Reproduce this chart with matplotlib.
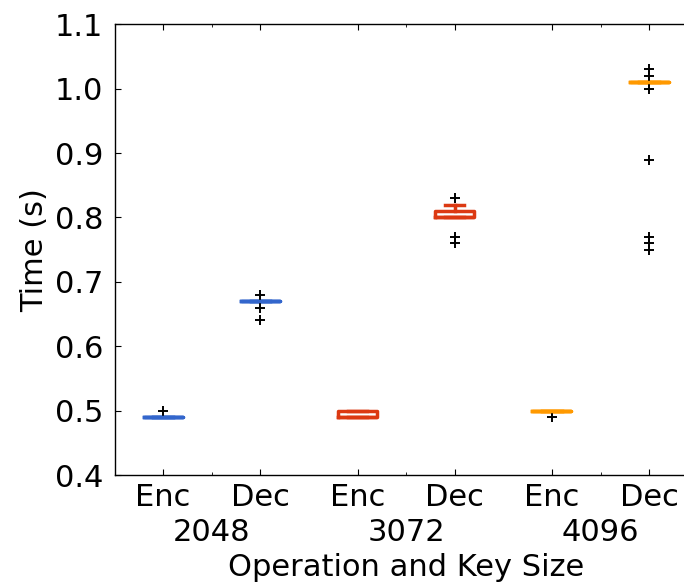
import matplotlib
matplotlib.use("Agg")
import matplotlib.pyplot as plt
from matplotlib.ticker import FixedLocator

# Box statistics (seconds)
ops = ["Enc", "Dec", "Enc", "Dec", "Enc", "Dec"]
key_sizes = ["2048", "3072", "4096"]
medians = [0.49, 0.67, 0.49, 0.80, 0.50, 1.01]
q1 = [0.49, 0.67, 0.49, 0.80, 0.50, 1.01]
q3 = [0.49, 0.67, 0.50, 0.81, 0.50, 1.01]
whis_lo = [0.49, 0.67, 0.49, 0.80, 0.50, 1.01]
whis_hi = [0.49, 0.67, 0.50, 0.82, 0.50, 1.01]
fliers = [
    [0.50],
    [0.68, 0.66, 0.64],
    [],
    [0.83, 0.77, 0.76],
    [0.49],
    [1.03, 1.02, 1.00, 0.89, 0.77, 0.76, 0.75],
]
colors = ["#3366cc", "#3366cc", "#dc3912", "#dc3912", "#ff9900", "#ff9900"]

plt.rcParams.update({
    "font.family": "DejaVu Sans",
    "font.size": 22,
    "xtick.direction": "in",
    "ytick.direction": "in",
    "xtick.top": True,
    "ytick.right": True,
    "xtick.major.size": 4,
    "xtick.minor.size": 2,
    "ytick.major.size": 4,
    "axes.linewidth": 1.0,
})

stats = []
for i in range(len(ops)):
    stats.append({
        "med": medians[i], "q1": q1[i], "q3": q3[i],
        "whislo": whis_lo[i], "whishi": whis_hi[i], "fliers": fliers[i],
    })

fig = plt.figure(figsize=(6.84, 5.84), dpi=100)
ax = fig.add_axes([114.5 / 684, 0.1866, 583.2 / 684, 0.7718])

positions = list(range(1, len(ops) + 1))
bp = ax.bxp(stats, positions=positions, widths=0.4, patch_artist=False,
            flierprops=dict(marker="+", markeredgecolor="black",
                            markersize=7, markeredgewidth=1.4))

lw = 2.5
for i, c in enumerate(colors):
    bp["boxes"][i].set(color=c, linewidth=lw)
    bp["medians"][i].set(color=c, linewidth=lw)
    for k in (2 * i, 2 * i + 1):
        bp["whiskers"][k].set(color=c, linewidth=lw, linestyle="-")
        bp["caps"][k].set(color=c, linewidth=lw)

ax.set_xlim(0.5, 6.5)
ax.set_ylim(0.4, 1.1)
ax.set_yticks([0.4, 0.5, 0.6, 0.7, 0.8, 0.9, 1.0, 1.1])

ax.set_xticks(positions)
ax.set_xticklabels(ops)
ax.xaxis.set_minor_locator(FixedLocator([1.5, 3.5, 5.5]))
ax.set_xticklabels(key_sizes, minor=True)
ax.tick_params(axis="x", which="major", pad=6)
ax.tick_params(axis="x", which="minor", pad=31)
ax.tick_params(axis="y", which="major", pad=8)

ax.set_xlabel("Operation and Key Size", labelpad=4)
ax.set_ylabel("Time (s)")

fig.savefig("out.png", dpi=100)
